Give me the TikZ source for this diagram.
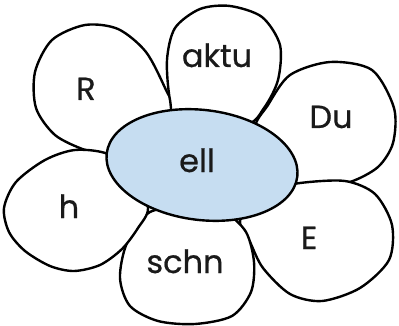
\documentclass[tikz,border=0pt]{standalone}
\usepackage{fontspec}
\setmainfont[FakeBold=0.6]{Poppins}
\definecolor{centerblue}{HTML}{C6DDF1}
\definecolor{ink}{HTML}{1A1A1A}
\tikzset{
  petal/.style={draw=black, fill=white, line width=2.4pt, line join=round},
  heart/.style={draw=black, fill=centerblue, line width=2.4pt},
  lbl/.style={anchor=base, inner sep=0pt, text=ink, font=\fontsize{32}{36}\selectfont}
}
\begin{document}
\begin{tikzpicture}[x=1pt,y=-1pt]
\useasboundingbox (0,0) rectangle (399,326);
% petals
\draw[petal] plot[smooth cycle] coordinates {(178,120) (166,90) (146,52) (118,29) (85,25) (52,40) (35,72) (36,108) (55,135) (85,150) (112,156) (150,145)};
\draw[petal] plot[smooth cycle] coordinates {(180,125) (170,100) (167,60) (175,28) (200,9) (230,6) (262,17) (280,45) (278,80) (264,108) (245,125)};
\draw[petal] plot[smooth cycle] coordinates {(255,130) (268,105) (290,75) (330,62) (372,70) (394,108) (393,143) (378,167) (350,182) (318,186) (290,186) (275,172)};
\draw[petal] plot[smooth cycle] coordinates {(272,190) (300,183) (345,181) (375,194) (392,225) (389,260) (360,288) (322,301) (290,294) (263,268) (250,242) (240,222) (250,200)};
\draw[petal] plot[smooth cycle] coordinates {(200,205) (150,212) (127,243) (120,278) (130,306) (158,321) (195,324) (232,316) (251,292) (254,262) (246,232) (225,212)};
\draw[petal] plot[smooth cycle] coordinates {(135,175) (108,154) (75,150) (45,160) (16,182) (4,208) (9,232) (25,251) (50,266) (74,271) (100,265) (122,249) (138,228) (148,208)};
% centre
\draw[heart, rotate around={-7:(202,165)}] (202,165) ellipse [x radius=96, y radius=55];
% labels
\node[lbl] (tc) at (197,172) {ell};
\node[lbl] (t1) at (217,67) {aktu};
\node[lbl] (t2) at (331,128) {Du};
\node[lbl] (t3) at (309,249) {E};
\node[lbl] (t4) at (185,273) {schn};
\node[lbl] (t5) at (69,218) {h};
\node[lbl] (t6) at (86,100) {R};
\end{tikzpicture}
\end{document}
